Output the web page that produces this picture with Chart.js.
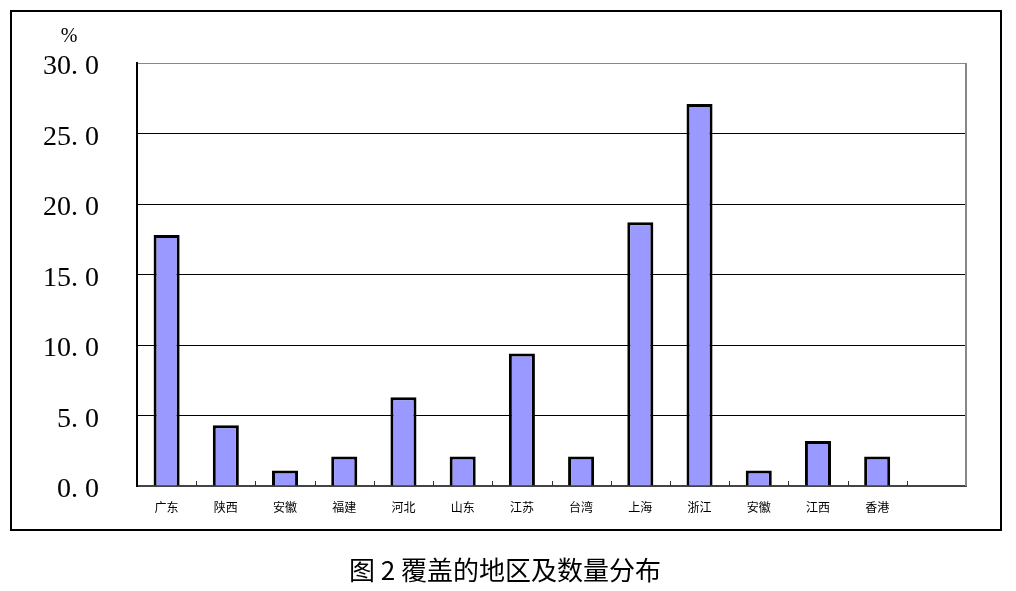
<!DOCTYPE html>
<html>
<head>
<meta charset="utf-8">
<script src="https://cdn.jsdelivr.net/npm/chart.js@4"></script>
<style>
html,body{margin:0;padding:0;background:#fff;}
#wrap{position:absolute;left:0;top:0;width:1016px;height:591px;}
</style>
</head>
<body>
<div id="wrap"><canvas id="mycanvas" width="1016" height="591"></canvas></div>
<script>
var regions=['广东','陕西','安徽','福建','河北','山东','江苏','台湾','上海','浙江','安徽','江西','香港',''];
var shares=[17.8,4.3,1.1,2.1,6.3,2.1,9.4,2.1,18.7,27.1,1.1,3.2,2.1,null];
var yTicks=[0,5,10,15,20,25,30];
var yTickLabels=['0. 0','5. 0','10. 0','15. 0','20. 0','25. 0','30. 0'];
var unitLabel='%';
var caption='图 2 覆盖的地区及数量分布';

// frame, unit, caption and the inner tick marks
var decor={
	id:'decor',
	beforeDraw:function(chart){
		var c=chart.ctx;
		c.save();
		c.fillStyle='#fff';
		c.fillRect(0,0,chart.width,chart.height);
		c.restore();
	},
	afterDraw:function(chart){
		var c=chart.ctx, a=chart.chartArea, x=chart.scales.x;
		c.save();
		c.strokeStyle='#000';
		c.lineWidth=2;
		c.strokeRect(11,11,990,519);
		// right edge of plot, gray
		c.strokeStyle='#888';
		c.lineWidth=2;
		c.beginPath();
		c.moveTo(a.right,a.top);
		c.lineTo(a.right,a.bottom);
		c.stroke();
		// ticks between categories
		c.strokeStyle='#333';
		c.lineWidth=1;
		var step=(a.right-a.left)/regions.length;
		for(var i=1;i<regions.length;i++){
			var px=Math.round(x.getPixelForValue(i)-step/2)+0.5;
			c.beginPath();
			c.moveTo(px,a.bottom);
			c.lineTo(px,a.bottom-5);
			c.stroke();
		}
		c.fillStyle='#000';
		c.font='20px "Liberation Serif", serif';
		c.textAlign='center';
		c.textBaseline='middle';
		c.fillText(unitLabel,69,37);
		c.font='26px "Noto Sans CJK SC", sans-serif';
		c.fillText(caption,505,570);
		c.restore();
	}
};

var ctx=document.getElementById('mycanvas');
var chart=new Chart(ctx,{
	type:'bar',
	data:{
		labels:regions,
		datasets:[{
			data:shares,
			backgroundColor:'#9999ff',
			borderColor:'#000',
			borderWidth:3,
			borderSkipped:'bottom',
			categoryPercentage:1,
			barPercentage:0.44
		}]
	},
	options:{
		responsive:false,
		animation:false,
		layout:{padding:{top:63,right:50,left:0,bottom:0}},
		plugins:{legend:{display:false},tooltip:{enabled:false}},
		scales:{
			x:{
				offset:true,
				grid:{display:false},
				border:{display:true,color:'#444',width:2},
				ticks:{
					color:'#000',
					padding:6,
					maxRotation:0,
					autoSkip:false,
					font:{family:'"Noto Sans CJK SC", sans-serif',size:12}
				},
				afterFit:function(s){ s.height=105; }
			},
			y:{
				min:0,
				max:30,
				afterBuildTicks:function(s){ s.ticks=yTicks.map(function(v){return {value:v};}); },
				grid:{
					drawTicks:false,
					color:function(c){ return c.tick && c.tick.value===30 ? '#888' : '#000'; },
					lineWidth:1
				},
				border:{display:true,color:'#000',width:2},
				ticks:{
					color:'#000',
					padding:38,
					labelOffset:4,
					font:{family:'"Liberation Serif", serif',size:28},
					callback:function(v){ var i=yTicks.indexOf(v); return i<0?'':yTickLabels[i]; }
				},
				afterFit:function(s){ s.width=137; }
			}
		}
	},
	plugins:[decor]
});
</script>
</body>
</html>
